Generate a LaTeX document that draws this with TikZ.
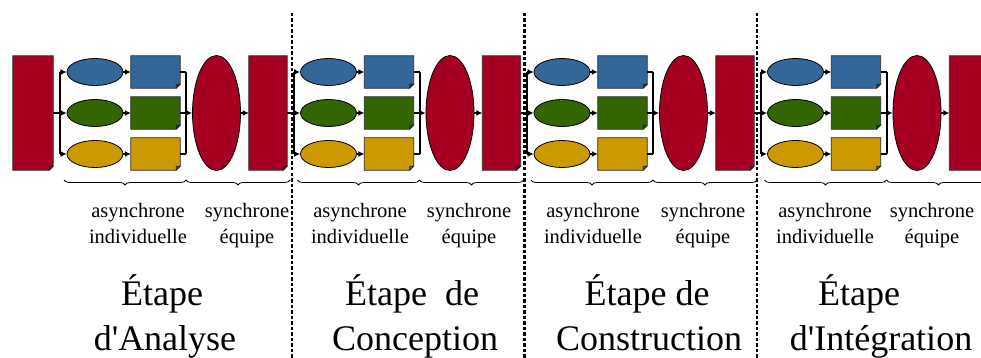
\documentclass[tikz,border=0pt]{standalone}
\usepackage{fontspec}
\setmainfont{Liberation Serif}
\usetikzlibrary{shapes.geometric,arrows.meta,decorations.pathreplacing}
\definecolor{cred}{RGB}{165,0,33}
\definecolor{cblue}{RGB}{51,102,153}
\definecolor{cgreen}{RGB}{51,102,0}
\definecolor{cgold}{RGB}{204,153,0}
\tikzset{
  docline/.style={draw=black!85, line width=0.7pt},
  ell/.style={ellipse, draw=black, line width=0.8pt, inner sep=0pt},
  conn/.style={line width=2pt, draw=black},
  arr/.style={conn, -{Latex[length=6pt,width=6pt]}},
  sepline/.style={line width=2.2pt, dash pattern=on 3.5pt off 2pt},
  brc/.style={decorate, decoration={brace, amplitude=5pt, mirror}, line width=0.8pt},
  small/.style={font=\rmfamily\fontsize{20.5}{25.5}\selectfont, anchor=base, inner sep=0pt},
  big/.style={font=\rmfamily\fontsize{36}{45}\selectfont, anchor=base, inner sep=0pt},
}
% name, x, y, width, height, colour
\newcommand\mydoc[6]{%
  \node[inner sep=0pt, minimum width=#4pt, minimum height=#5pt] (#1) at (#2,#3) {};
  \filldraw[fill=#6, docline] (#1.north west) -- (#1.north east) -- ([yshift=4pt]#1.south east)
     -- ([xshift=-4pt]#1.south east) -- (#1.south west) -- cycle;
  \filldraw[fill=#6!60!black, docline] ([yshift=4pt]#1.south east) -- ([xshift=-4pt,yshift=4pt]#1.south east)
     -- ([xshift=-4pt]#1.south east) -- cycle;
}
\begin{document}
\begin{tikzpicture}[x=1pt,y=-1pt]
\useasboundingbox (0,0) rectangle (981,358);
\mydoc{D0}{33}{113}{40}{114}{cred}
\foreach \k in {0,1,2,3}{
  \pgfmathsetmacro\ox{233.5*\k}
  \pgfmathtruncatemacro\kn{\k+1}
  \coordinate (s\k) at (\ox+60,113);
  \coordinate (st\k) at (\ox+60,72);
  \coordinate (sb\k) at (\ox+60,154);
  \node[ell, fill=cblue, minimum width=56pt, minimum height=27pt] (a\k) at (\ox+95,72) {};
  \node[ell, fill=cgreen, minimum width=56pt, minimum height=27pt] (g\k) at (\ox+95,113) {};
  \node[ell, fill=cgold, minimum width=56pt, minimum height=27pt] (o\k) at (\ox+95,154) {};
  \mydoc{ba\k}{\ox+155.5}{72}{49}{32}{cblue}
  \mydoc{bg\k}{\ox+155.5}{113}{49}{32}{cgreen}
  \mydoc{bo\k}{\ox+155.5}{154}{49}{32}{cgold}
  \coordinate (m\k) at (\ox+186,113);
  \coordinate (mt\k) at (\ox+186,72);
  \coordinate (mb\k) at (\ox+186,154);
  \node[ell, fill=cred, minimum width=48pt, minimum height=115pt] (E\k) at (\ox+216.5,113) {};
  \mydoc{D\kn}{\ox+268}{113}{38}{114}{cred}
  \draw[conn] (D\k.east) -- (s\k);
  \draw[conn] (st\k) -- (sb\k);
  \draw[arr] (st\k) -- (a\k.west);
  \draw[arr] (s\k) -- (g\k.west);
  \draw[arr] (sb\k) -- (o\k.west);
  \draw[arr] (a\k.east) -- (ba\k.west);
  \draw[arr] (g\k.east) -- (bg\k.west);
  \draw[arr] (o\k.east) -- (bo\k.west);
  \draw[conn] (ba\k.east) -- (mt\k);
  \draw[conn] (bg\k.east) -- (m\k);
  \draw[conn] (bo\k.east) -- (mb\k);
  \draw[conn] (mt\k) -- (mb\k);
  \draw[arr] (m\k) -- (E\k.west);
  \draw[arr] (E\k.east) -- (D\kn.west);
  \coordinate (bl\k) at (\ox+64,180);
  \coordinate (bm\k) at (\ox+186,180);
  \coordinate (br\k) at (\ox+290,180);
  \draw[brc] (bl\k) -- (bm\k);
  \draw[brc] (bm\k) -- (br\k);
}
% small labels
\node[small] (as0) at (138,217) {asynchrone};
\node[small] (in0) at (138,243) {individuelle};
\node[small] (sy0) at (247,217) {synchrone};
\node[small] (eq0) at (247,243) {équipe};
\node[small] (as1) at (360,217) {asynchrone};
\node[small] (in1) at (360,243) {individuelle};
\node[small] (sy1) at (469,217) {synchrone};
\node[small] (eq1) at (469,243) {équipe};
\node[small] (as2) at (593,217) {asynchrone};
\node[small] (in2) at (593,243) {individuelle};
\node[small] (sy2) at (703,217) {synchrone};
\node[small] (eq2) at (703,243) {équipe};
\node[small] (as3) at (825,217) {asynchrone};
\node[small] (in3) at (825,243) {individuelle};
\node[small] (sy3) at (932,217) {synchrone};
\node[small] (eq3) at (932,243) {équipe};
% stage titles
\node[big] (T0a) at (162,305) {Étape};
\node[big] (T0b) at (165,350) {d\textquotesingle Analyse};
\node[big] (T1a) at (412,305) {Étape\ \ de};
\node[big] (T1b) at (415,350) {Conception};
\node[big] (T2a) at (647,305) {Étape de};
\node[big] (T2b) at (649,350) {Construction};
\node[big] (T3a) at (859,305) {Étape};
\node[big] (T3b) at (881,350) {d\textquotesingle Intégration};
% separators
\foreach \x/\n in {292/1,524.5/2,757/3}{
  \coordinate (vt\n) at (\x,13);
  \coordinate (vb\n) at (\x,358);
  \draw[sepline] (vt\n) -- (vb\n);
}
\end{tikzpicture}
\end{document}
